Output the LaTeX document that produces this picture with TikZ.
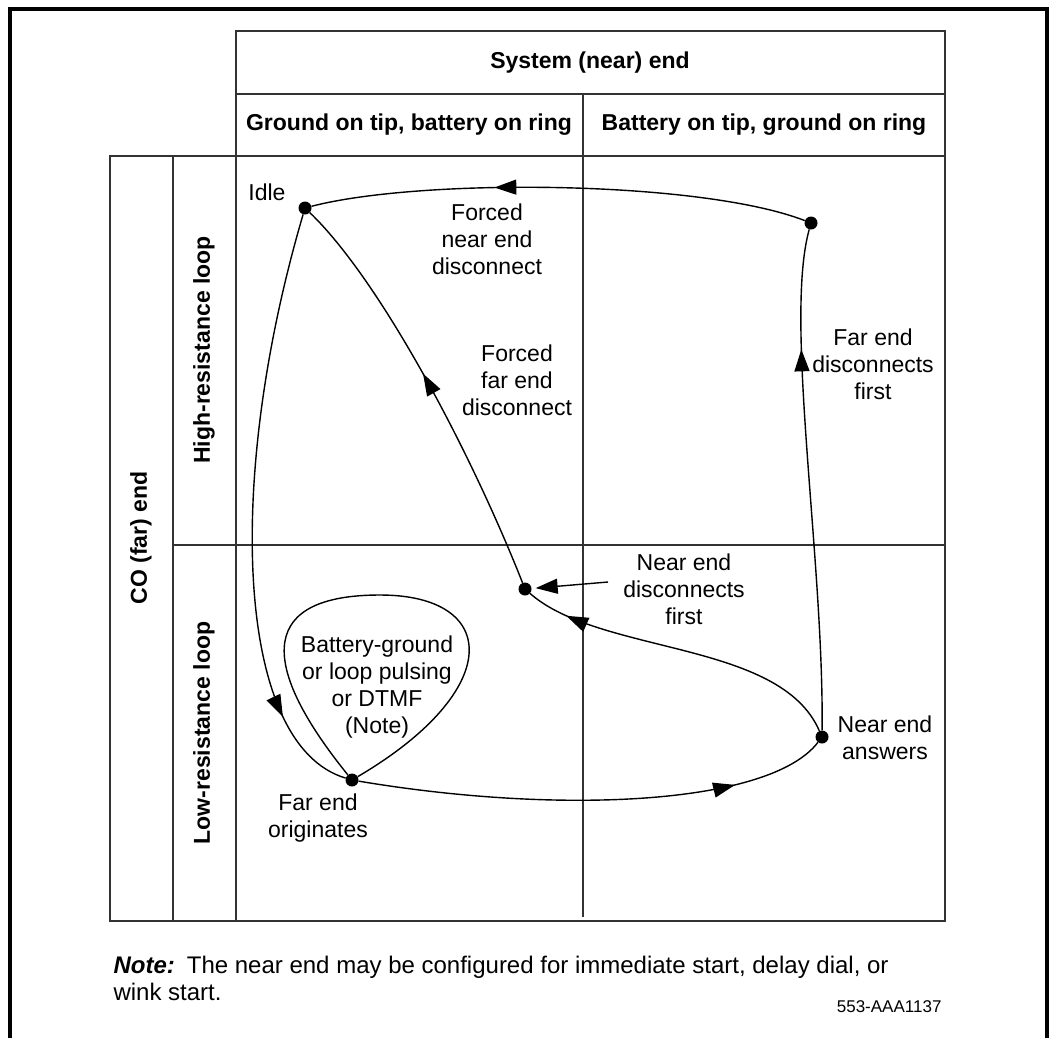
\documentclass[tikz,border=0pt]{standalone}
\usepackage{fontspec}
\setmainfont{Liberation Sans}
\usetikzlibrary{arrows.meta,decorations.markings}
\tikzset{
  cellline/.style={draw=black!80,line width=1.1pt},
  statedot/.style={circle,fill=black,inner sep=0pt,minimum size=13pt},
  txt/.style={align=center,font=\fontsize{23}{27}\selectfont},
  hdr/.style={font=\bfseries\fontsize{23}{27}\selectfont},
  flow/.style={line width=1.4pt},
  midarrow/.style={postaction={decorate,decoration={markings,mark=at position #1 with {\arrow{Triangle[length=22pt,width=15pt]}}}}}
}
\begin{document}
\begin{tikzpicture}[x=1pt,y=-1pt]
\useasboundingbox (0,0) rectangle (1054,1037);
% frame
\draw[line width=4pt] (10,1050) -- (10,8.5) -- (1047,8.5) -- (1047,1050);
% table
\draw[cellline] (236,31) rectangle (945,156);
\draw[cellline] (236,94) -- (945,94);
\draw[cellline] (583,94) -- (583,917);
\draw[cellline] (110,156) rectangle (945,921);
\draw[cellline] (173,156) -- (173,921);
\draw[cellline] (236,156) -- (236,921);
\draw[cellline] (173,545) -- (945,545);
\node[hdr] (sysend) at (590,63) {System (near) end};
\node[hdr] (gndtip) at (409,125) {Ground on tip, battery on ring};
\node[hdr] (battip) at (764,125) {Battery on tip, ground on ring};
\node[hdr,rotate=90] (coend) at (141,538) {CO (far) end};
\node[hdr,rotate=90] (hiloop) at (204,350) {High-resistance loop};
\node[hdr,rotate=90] (loloop) at (204,733) {Low-resistance loop};
% states
\node[statedot] (idle) at (305,208) {};
\node[statedot] (fdisc) at (811,223) {};
\node[statedot] (answer) at (822,737) {};
\node[statedot] (orig) at (352,780) {};
\node[statedot] (ndisc) at (525,589) {};
% transitions
\draw[flow,midarrow=0.63] (fdisc) .. controls (700,180) and (420,178) .. (idle);
\draw[flow,midarrow=0.76] (answer) .. controls (824,560) and (784,320) .. (fdisc);
\draw[flow,midarrow=0.85] (idle) .. controls (225,480) and (235,745) .. (orig);
\draw[flow,midarrow=0.8] (orig) .. controls (560,815) and (770,805) .. (answer);
\draw[flow] (orig) .. controls (255,660) and (262,595) .. (380,595) .. controls (500,595) and (505,690) .. (orig);
\draw[flow,midarrow=0.87] (answer) .. controls (780,640) and (600,655) .. (ndisc);
\draw[flow,midarrow=0.54] (ndisc) .. controls (470,450) and (380,280) .. (idle);
\coordinate (ndtail) at (608,582);
\draw[flow,-{Triangle[length=22pt,width=15pt]},shorten >=4pt] (ndtail) -- (ndisc);
% labels
\node[txt] (idlelbl) at (267,192) {Idle};
\node[txt] (fndlbl) at (487,239) {Forced\\near end\\disconnect};
\node[txt] (ffdlbl) at (517,380) {Forced\\far end\\disconnect};
\node[txt] (fdfirst) at (873,364) {Far end\\disconnects\\first};
\node[txt] (ndfirst) at (684,589) {Near end\\disconnects\\first};
\node[txt] (anslbl) at (885,738) {Near end\\answers};
\node[txt] (origlbl) at (318,818) {Far end\\originates};
\node[txt] (pulslbl) at (377,687) {Battery-ground\\or loop pulsing\\or DTMF\\(Note)};
% note
\node[anchor=west,align=left,font=\fontsize{24}{27}\selectfont] (note) at (110,978) {\textbf{\textit{Note:}}\enspace The near end may be configured for immediate start, delay dial, or\\wink start.};
\node[anchor=east,font=\fontsize{17}{20}\selectfont] (figid) at (945,1007) {553-AAA1137};
\end{tikzpicture}
\end{document}
